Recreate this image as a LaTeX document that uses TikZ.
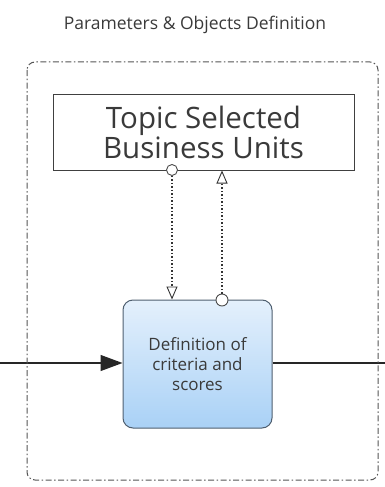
\documentclass[tikz,border=0pt]{standalone}
\usepackage{fontspec}
\setmainfont{Open Sans}
\usetikzlibrary{arrows.meta}
\definecolor{framegray}{HTML}{555555}
\definecolor{boxtop}{HTML}{E4F0FC}
\definecolor{boxbot}{HTML}{A9D1F6}
\definecolor{boxline}{HTML}{4F5F70}
\definecolor{txtgray}{HTML}{3A3A3A}
\tikzset{
  frame/.style={draw=framegray, line width=1pt, dash pattern=on 6pt off 2.5pt on 1.5pt off 2.5pt, rounded corners=8pt},
  topicbox/.style={draw=black!75, line width=1pt, fill=white, minimum width=301pt, minimum height=76pt, inner sep=0pt, align=center, font=\fontsize{29.5}{30}\selectfont, text=txtgray},
  actbox/.style={draw=boxline, line width=1pt, rounded corners=10pt, top color=boxtop, bottom color=boxbot, minimum width=149pt, minimum height=128pt, inner sep=0pt, align=center, font=\fontsize{17}{20}\selectfont, text=txtgray},
  dotline/.style={draw=black!80, line width=1.2pt, dash pattern=on 1.5pt off 2pt},
  flow/.style={draw=black!85, line width=1.3pt},
  ring/.style={circle, draw=black!70, fill=white, line width=0.9pt, minimum size=11pt, inner sep=0pt},
  otip/.style={-{Triangle[open, width=11pt, length=13pt, line width=0.9pt]}},
}
\begin{document}
\begin{tikzpicture}[x=1pt,y=-1pt]
\useasboundingbox (0,0) rectangle (385,487);
\node[font=\fontsize{17.5}{18}\selectfont, text=txtgray] (title) at (195,25) {Parameters \& Objects Definition};
\coordinate (lin) at (0,363);
\coordinate (rout) at (385,363);
\node[topicbox] (topic) at (203.5,132) {Topic Selected\\Business Units};
\node[actbox] (act) at (197.5,364) {Definition of\\criteria and\\scores};
\draw[flow, -{Triangle[width=16pt, length=22pt]}] (lin) -- (act.west |- lin);
\draw[flow] (act.east |- rout) -- (rout);
\draw[frame] (27,62) rectangle (378,480);
% connectors
\node[ring] (c1) at (172,170) {};
\node[ring, minimum size=12pt] (c2) at (222,300) {};
\draw[dotline, otip] (c1.south) -- (c1.south |- act.north);
\draw[dotline, otip] (c2.north) -- (c2.north |- topic.south);
\end{tikzpicture}
\end{document}
